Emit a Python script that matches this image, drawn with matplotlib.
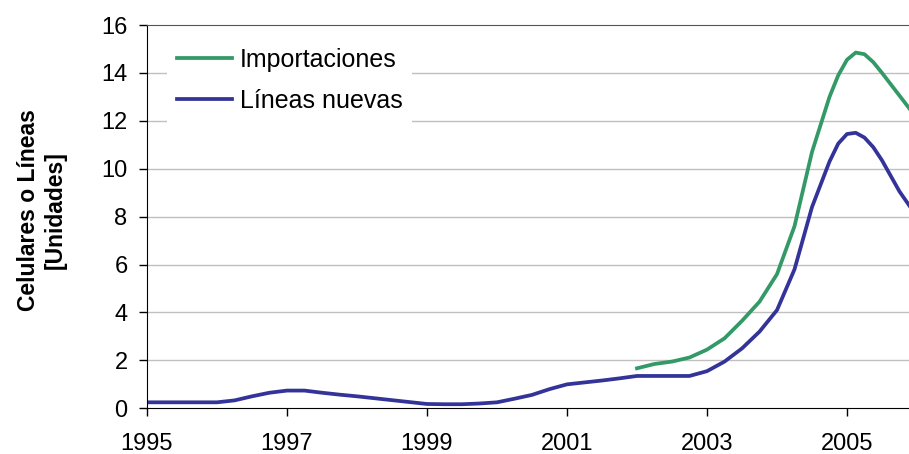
import matplotlib
matplotlib.use("Agg")
import matplotlib.pyplot as plt

plt.rcParams['font.family'] = ['Liberation Sans', 'DejaVu Sans']

# Líneas nuevas (trimestral)
anios_lineas = [1995.0, 1995.25, 1995.5, 1995.75, 1996.0, 1996.25, 1996.5, 1996.75,
                1997.0, 1997.25, 1997.5, 1997.75, 1998.0, 1998.25, 1998.5, 1998.75,
                1999.0, 1999.25, 1999.5, 1999.75, 2000.0, 2000.25, 2000.5, 2000.75,
                2001.0, 2001.25, 2001.5, 2001.75, 2002.0, 2002.25, 2002.5, 2002.75,
                2003.0, 2003.25, 2003.5, 2003.75, 2004.0, 2004.25, 2004.5, 2004.75,
                2004.875, 2005.0, 2005.125, 2005.25, 2005.375, 2005.5, 2005.75, 2006.0]
lineas = [0.25, 0.25, 0.25, 0.25, 0.25, 0.33, 0.50, 0.65,
          0.74, 0.74, 0.65, 0.57, 0.50, 0.42, 0.34, 0.26,
          0.18, 0.17, 0.17, 0.20, 0.25, 0.40, 0.56, 0.80,
          1.00, 1.08, 1.16, 1.25, 1.35, 1.35, 1.35, 1.35,
          1.55, 1.95, 2.50, 3.20, 4.10, 5.80, 8.40, 10.30,
          11.05, 11.45, 11.50, 11.30, 10.90, 10.35, 9.05, 8.00]

# Importaciones
anios_import = [2002.0, 2002.25, 2002.5, 2002.75, 2003.0, 2003.25, 2003.5, 2003.75,
                2004.0, 2004.25, 2004.5, 2004.75, 2004.875, 2005.0, 2005.125, 2005.25,
                2005.375, 2005.5, 2005.75, 2006.0]
importaciones = [1.67, 1.85, 1.95, 2.12, 2.45, 2.92, 3.65, 4.45,
                 5.60, 7.60, 10.70, 13.00, 13.90, 14.55, 14.85, 14.78,
                 14.45, 14.00, 13.05, 12.10]

x_ticks = [1995, 1997, 1999, 2001, 2003, 2005]
y_ticks = [0, 2, 4, 6, 8, 10, 12, 14, 16]

fig = plt.figure(figsize=(9.09, 4.54), dpi=100)
ax = fig.add_axes([147 / 909, 1 - 408.3 / 454, 1 - 147 / 909, (408.3 - 25) / 454])

ax.plot(anios_import, importaciones, color='#339966', lw=2.7, label='Importaciones',
        solid_joinstyle='round')
ax.plot(anios_lineas, lineas, color='#333399', lw=2.7, label='Líneas nuevas',
        solid_joinstyle='round')

ax.set_xlim(1995, 1995 + (909 - 147) / 70)
ax.set_ylim(0, 16)
ax.set_xticks(x_ticks)
ax.set_yticks(y_ticks)

# rejilla horizontal
for v in y_ticks[1:-1]:
    ax.axhline(v, color='#c0c0c0', lw=1, zorder=0)

ax.spines['right'].set_visible(False)
ax.spines['top'].set_color('#555555')
ax.spines['left'].set_color('black')
ax.spines['bottom'].set_color('black')

ax.tick_params(axis='both', direction='out', length=6, width=1, labelsize=17)
ax.tick_params(axis='y', pad=8)
ax.tick_params(axis='x', pad=12)

leg = ax.legend(loc='upper left', bbox_to_anchor=(0.01, 1.0), fontsize=18,
                frameon=True, fancybox=False, edgecolor='none', facecolor='white',
                framealpha=1, handlelength=2.2, handletextpad=0.3,
                labelspacing=0.7, borderpad=0.4)

fig.text(42 / 909, 1 - 210 / 454, 'Celulares o Líneas\n[Unidades]', rotation=90,
         ha='center', va='center', fontsize=16.5, fontweight='bold',
         multialignment='center')

fig.savefig('out.png', dpi=100)
